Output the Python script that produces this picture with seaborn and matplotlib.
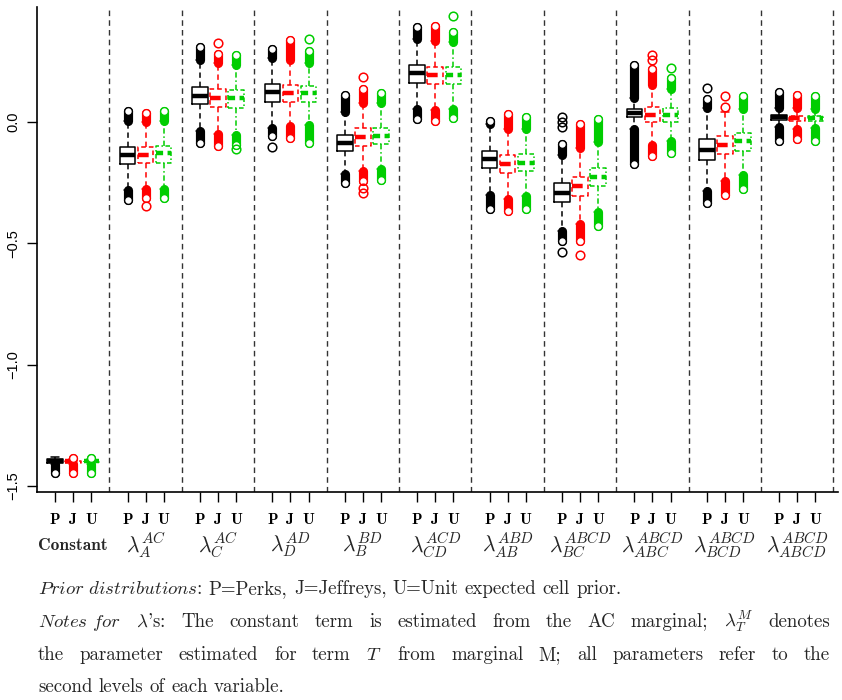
import numpy as np
import pandas as pd
import matplotlib
matplotlib.use("Agg")
import matplotlib.pyplot as plt
import seaborn as sns

# ---- categories -----------------------------------------------------------
groups = ["Constant",
          r"$\lambda_{A}^{AC}$", r"$\lambda_{C}^{AC}$", r"$\lambda_{D}^{AD}$",
          r"$\lambda_{B}^{BD}$", r"$\lambda_{CD}^{ACD}$", r"$\lambda_{AB}^{ABD}$",
          r"$\lambda_{BC}^{ABCD}$", r"$\lambda_{ABC}^{ABCD}$",
          r"$\lambda_{BCD}^{ABCD}$", r"$\lambda_{ABCD}^{ABCD}$"]
priors = ["P", "J", "U"]

# ---- box summaries per prior (one value per group) -------------------------
P_whislo = [-1.410, -0.280, -0.036, -0.024, -0.214, 0.052, -0.300, -0.448, -0.030, -0.286, -0.022]
P_q1     = [-1.404, -0.173, 0.073, 0.084, -0.118, 0.162, -0.191, -0.331, 0.019, -0.157, 0.008]
P_med    = [-1.397, -0.137, 0.108, 0.122, -0.088, 0.201, -0.154, -0.291, 0.036, -0.115, 0.019]
P_q3     = [-1.391, -0.102, 0.146, 0.157, -0.054, 0.235, -0.118, -0.253, 0.052, -0.071, 0.029]
P_whishi = [-1.381, 0.005, 0.255, 0.265, 0.040, 0.343, -0.009, -0.137, 0.100, 0.058, 0.058]
P_out_hi = [np.nan, 0.045, 0.310, 0.301, 0.110, 0.391, 0.006, -0.090, 0.233, 0.095, 0.123]
P_out_lo = [-1.447, -0.323, -0.086, -0.058, -0.253, 0.011, -0.360, -0.490, -0.175, -0.333, -0.079]

J_whislo = [-1.410, -0.275, -0.049, -0.018, -0.200, 0.050, -0.317, -0.420, -0.093, -0.243, -0.027]
J_q1     = [-1.405, -0.170, 0.061, 0.084, -0.098, 0.157, -0.209, -0.304, -0.001, -0.132, 0.004]
J_med    = [-1.399, -0.136, 0.098, 0.118, -0.060, 0.194, -0.173, -0.264, 0.029, -0.095, 0.018]
J_q3     = [-1.396, -0.102, 0.135, 0.152, -0.026, 0.228, -0.136, -0.225, 0.061, -0.058, 0.025]
J_whishi = [-1.389, 0.000, 0.244, 0.254, 0.079, 0.334, -0.028, -0.106, 0.154, 0.042, 0.056]
J_out_hi = [-1.383, 0.039, 0.281, 0.338, 0.137, 0.397, 0.033, -0.008, 0.220, np.nan, 0.113]
J_out_lo = [-1.445, -0.313, -0.099, -0.067, -0.244, 0.006, -0.365, -0.490, -0.140, -0.300, -0.069]

U_whislo = [-1.410, -0.275, -0.052, -0.012, -0.195, 0.053, -0.305, -0.372, -0.080, -0.218, -0.026]
U_q1     = [-1.403, -0.170, 0.056, 0.084, -0.092, 0.157, -0.201, -0.264, 0.001, -0.118, 0.004]
U_med    = [-1.398, -0.129, 0.100, 0.118, -0.056, 0.194, -0.168, -0.225, 0.029, -0.077, 0.015]
U_q3     = [-1.394, -0.099, 0.131, 0.148, -0.023, 0.226, -0.131, -0.191, 0.056, -0.047, 0.024]
U_whishi = [-1.389, 0.005, 0.237, 0.244, 0.079, 0.330, -0.028, -0.083, 0.138, 0.055, 0.054]
U_out_hi = [-1.383, 0.047, 0.278, 0.294, 0.119, 0.370, 0.020, 0.013, 0.182, 0.109, 0.109]
U_out_lo = [-1.445, -0.313, -0.095, -0.086, -0.237, 0.016, -0.358, -0.430, -0.127, -0.275, -0.079]

# isolated outlying draws: (group index, value)
P_stray = [(3, -0.102), (7, 0.022), (7, 0.001), (7, -0.019), (7, -0.535), (9, 0.139)]
J_stray = [(1, -0.345), (2, 0.324), (4, 0.184), (4, -0.273), (4, -0.291), (7, -0.548),
           (8, 0.276), (8, 0.256), (9, 0.107), (9, 0.061)]
U_stray = [(2, -0.112), (3, 0.343), (5, 0.437), (8, 0.224)]

summaries = {
    "P": (P_whislo, P_q1, P_med, P_q3, P_whishi, P_out_hi, P_out_lo, P_stray),
    "J": (J_whislo, J_q1, J_med, J_q3, J_whishi, J_out_hi, J_out_lo, J_stray),
    "U": (U_whislo, U_q1, U_med, U_q3, U_whishi, U_out_hi, U_out_lo, U_stray),
}

colors = {"P": "#000000", "J": "#FF0000", "U": "#00CD00"}
box_ls = {"P": "-", "J": (0, (3, 2)), "U": (0, (3, 1.6, 1, 1.6))}
whisk_ls = {"P": (0, (3.5, 2.5)), "J": (0, (3.5, 2.5)), "U": (0, (3.5, 1.8, 1, 1.8))}
med_ls = {"P": "-", "J": (0, (2.4, 1.2)), "U": (0, (1.6, 1.0, 1.0, 1.0))}

# ---- figure ---------------------------------------------------------------
sns.set_style("ticks")
plt.rcParams["mathtext.fontset"] = "cm"
plt.rcParams["font.family"] = ["Liberation Sans", "DejaVu Sans"]

W, H = 842, 700
fig = plt.figure(figsize=(W / 100, H / 100), dpi=100)
ax_l, ax_r, ax_t, ax_b = 37, 838, 7, 492
ax = fig.add_axes([ax_l / W, 1 - ax_b / H, (ax_r - ax_l) / W, (ax_b - ax_t) / H])

ngroups = len(groups)
for j, pr in enumerate(priors):
    whislo, q1, med, q3, whishi, out_hi, out_lo, stray = summaries[pr]
    pos = [4 * g + j + 1 for g in range(ngroups)]
    # five-number summary per box; with 5 values the quartiles land exactly
    df = pd.DataFrame({
        "pos": np.repeat(pos, 5),
        "value": np.column_stack([whislo, q1, med, q3, whishi]).ravel(),
    })
    sns.boxplot(data=df, x="pos", y="value", native_scale=True, fill=False,
                color=colors[pr], linewidth=1.1, width=0.86 / 4, whis=(0, 100),
                showfliers=False, ax=ax,
                boxprops=dict(linestyle=box_ls[pr]),
                whiskerprops=dict(linestyle=whisk_ls[pr]),
                capprops=dict(linestyle="-"),
                medianprops=dict(linestyle=med_ls[pr], linewidth=3.2))

    c = colors[pr]
    for g in range(ngroups):
        x = pos[g]
        for inner, outer in ((whishi[g], out_hi[g]), (whislo[g], out_lo[g])):
            if np.isnan(outer):
                continue
            ax.plot([x, x], [inner, outer], color=c, lw=6.6,
                    solid_capstyle="round", zorder=3)
            ax.plot([x], [outer], marker="o", ms=5.6, mfc="white", mec=c,
                    mew=1.0, ls="none", zorder=4)
    sx = [pos[g] for g, _ in stray]
    sy = [v for _, v in stray]
    ax.plot(sx, sy, marker="o", ms=6.2, mfc="none", mec=c, mew=1.1,
            ls="none", zorder=4)

# group separators
for g in range(1, ngroups + 1):
    ax.axvline(4 * g, color="#333333", lw=1.0, ls=(0, (4, 3)), zorder=1)

ax.set_xlim(0, 44.25)
ax.set_ylim(-1.525, 0.474)
for s in ("top", "right"):
    ax.spines[s].set_visible(False)
for s in ("left", "bottom"):
    ax.spines[s].set_linewidth(1.2)
    ax.spines[s].set_color("black")

ticks = [4 * g + j + 1 for g in range(ngroups) for j in range(3)]
ax.set_xticks(ticks)
ax.set_xticklabels(priors * ngroups, fontfamily="cmb10", fontsize=11)
ax.set_yticks([0.0, -0.5, -1.0, -1.5])
ax.set_yticklabels(["0.0", "\u22120.5", "\u22121.0", "\u22121.5"],
                   rotation=90, va="center", fontsize=10.5)
ax.tick_params(axis="both", length=7, width=1.0, color="black", labelcolor="black")
ax.tick_params(axis="x", pad=8)
ax.tick_params(axis="y", pad=5)
ax.set_xlabel("")
ax.set_ylabel("")

# group names under the prior letters
label_y = -(545 - ax_b) / (ax_b - ax_t)
for g, name in enumerate(groups):
    xg = 4 * g + 2
    if g == 0:
        ax.text(xg, label_y, name, transform=ax.get_xaxis_transform(),
                ha="center", va="center", fontfamily="cmb10", fontsize=12.5)
    else:
        ax.text(xg, label_y, name, transform=ax.get_xaxis_transform(),
                ha="center", va="center", fontsize=15.5)

# ---- notes below the chart ------------------------------------------------
note_size = 13.6
note_kw = dict(fontfamily="cmr10", fontsize=note_size, va="baseline", ha="left")
renderer = fig.canvas.get_renderer()


def note_line(words, y_px, x0=38, x1=None):
    texts = [fig.text(0, 1 - y_px / H, w, **note_kw) for w in words]
    widths = [t.get_window_extent(renderer).width for t in texts]
    probe = fig.text(0, 0, "a b", **note_kw)
    sw = probe.get_window_extent(renderer).width
    probe.remove()
    probe = fig.text(0, 0, "ab", **note_kw)
    sw -= probe.get_window_extent(renderer).width
    probe.remove()
    if x1 is None:
        gap = sw
    else:
        gap = (x1 - x0 - sum(widths)) / (len(words) - 1)
    x = x0
    for t, w in zip(texts, widths):
        t.set_x(x / W)
        x += w + gap


note_line([r"$\mathit{Prior\ distributions}$:", "P=Perks,", "J=Jeffreys,", "U=Unit",
           "expected", "cell", "prior."], 594)
note_line([r"$\mathit{Notes\ for}$", r"$\lambda$'s:", "The", "constant", "term", "is",
           "estimated", "from", "the", "AC", "marginal;", r"$\lambda_T^M$", "denotes"],
          627, x1=830)
note_line(["the", "parameter", "estimated", "for", "term", r"$T$", "from", "marginal",
           "M;", "all", "parameters", "refer", "to", "the"], 660, x1=830)
note_line(["second", "levels", "of", "each", "variable."], 692)

fig.savefig("out.png", dpi=100)
